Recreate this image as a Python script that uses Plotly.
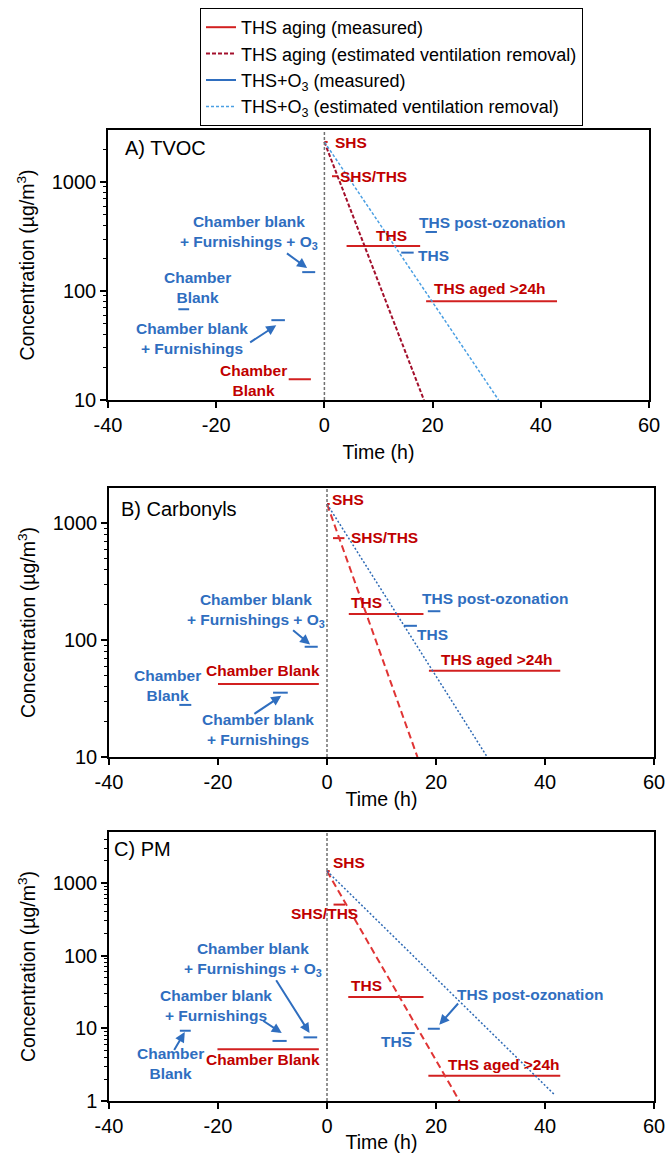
import numpy as np
import plotly.graph_objects as go

# ---------------- DATA ----------------
panels = ["A) TVOC", "B) Carbonyls", "C) PM"]

# Panel A (TVOC) measured segments: (start h, end h, value µg/m3)
A_red_names  = ["SHS", "SHS/THS", "THS", "THS aged >24h", "Chamber Blank"]
A_red_start  = [0.0, 1.4, 4.1, 18.8, -6.6]
A_red_end    = [0.6, 2.5, 17.7, 43.0, -2.5]
A_red_value  = [2330, 1130, 259, 80.5, 15.5]
A_blue_names = ["Chamber Blank", "Chamber blank + Furnishings", "Chamber blank + Furnishings + O3", "THS", "THS post-ozonation"]
A_blue_start = [-27.0, -9.8, -4.1, 14.2, 18.7]
A_blue_end   = [-25.0, -7.3, -1.7, 16.5, 20.8]
A_blue_value = [68, 54, 149, 225, 348]
A_est_red_t  = [0.0, 18.4]
A_est_red_v  = [2330, 10]
A_est_blue_t = [0.0, 32.2]
A_est_blue_v = [2330, 10]

# Panel B (Carbonyls)
B_red_names  = ["SHS", "SHS/THS", "THS", "THS aged >24h", "Chamber Blank"]
B_red_start  = [0.0, 1.1, 4.0, 18.7, -20.0]
B_red_end    = [0.5, 3.2, 17.7, 42.8, -1.5]
B_red_value  = [1460, 745, 167, 54.7, 42.2]
B_blue_names = ["Chamber Blank", "Chamber blank + Furnishings", "Chamber blank + Furnishings + O3", "THS", "THS post-ozonation"]
B_blue_start = [-27.1, -9.9, -4.1, 14.1, 18.5]
B_blue_end   = [-24.9, -7.2, -1.7, 16.5, 20.8]
B_blue_value = [27.9, 35.5, 87.7, 132.5, 176.6]
B_est_red_t  = [0.0, 16.6]
B_est_red_v  = [1460, 10]
B_est_blue_t = [0.0, 29.4]
B_est_blue_v = [1460, 10]

# Panel C (PM)
C_red_names  = ["SHS", "SHS/THS", "THS", "THS aged >24h", "Chamber Blank"]
C_red_start  = [0.0, 1.2, 3.9, 18.6, -20.1]
C_red_end    = [0.5, 3.3, 17.7, 42.8, -1.5]
C_red_value  = [1450, 502, 26.9, 2.22, 5.13]
C_blue_names = ["Chamber Blank", "Chamber blank + Furnishings", "Chamber blank + Furnishings + O3", "THS", "THS post-ozonation"]
C_blue_start = [-27.0, -10.0, -4.3, 13.7, 18.5]
C_blue_end   = [-25.0, -7.4, -1.8, 16.1, 20.7]
C_blue_value = [9.25, 6.7, 7.5, 8.6, 9.85]
C_est_red_t  = [0.0, 24.3]
C_est_red_v  = [1450, 1.0]
C_est_blue_t = [0.0, 41.7]
C_est_blue_v = [1450, 1.23]

x_ticks = [-40, -20, 0, 20, 40, 60]
y_ticks_AB = [10, 100, 1000]
y_ticks_C = [1, 10, 100, 1000]
y_max = [3000, 2000, 5000]
y_min = [10, 10, 1]

# ---------------- STYLE ----------------
FONT = "Liberation Sans, Arial, sans-serif"
RED_MEAS = "#D22020"
BLUE_MEAS = "#2F6EBF"
RED_TXT = "#C00000"
BLUE_TXT = "#2F6EBF"
EST_RED = ["#A3102C", "#E03434", "#E03434"]
EST_BLUE = ["#4A9FE3", "#2E6AB5", "#2E6AB5"]
EST_RED_DASH = ["4px,2px", "7px,4px", "7px,4px"]
EST_BLUE_DASH = ["3px,2px", "2px,2px", "2px,2px"]

W, H = 667, 1153
xdom = [[108 / W, 649 / W], [109 / W, 654 / W], [109 / W, 654 / W]]
ydom = [[1 - 400 / H, 1 - 130 / H], [1 - 757 / H, 1 - 488 / H], [1 - 1101 / H, 1 - 832 / H]]

fig = go.Figure()


def seg_xy(starts, ends, vals):
    xs, ys = [], []
    for s, e, v in zip(starts, ends, vals):
        xs += [s, e, None]
        ys += [v, v, None]
    return xs, ys


data = [
    (A_red_start, A_red_end, A_red_value, A_blue_start, A_blue_end, A_blue_value,
     A_est_red_t, A_est_red_v, A_est_blue_t, A_est_blue_v),
    (B_red_start, B_red_end, B_red_value, B_blue_start, B_blue_end, B_blue_value,
     B_est_red_t, B_est_red_v, B_est_blue_t, B_est_blue_v),
    (C_red_start, C_red_end, C_red_value, C_blue_start, C_blue_end, C_blue_value,
     C_est_red_t, C_est_red_v, C_est_blue_t, C_est_blue_v),
]

for i, d in enumerate(data):
    xa = "x" if i == 0 else f"x{i+1}"
    ya = "y" if i == 0 else f"y{i+1}"
    rs, re_, rv, bs, be, bv, ert, erv, ebt, ebv = d
    show = i == 0
    x, y = seg_xy(rs, re_, rv)
    fig.add_trace(go.Scatter(x=x, y=y, mode="lines", xaxis=xa, yaxis=ya,
                             line=dict(color=RED_MEAS, width=2),
                             name="THS aging (measured)", legendrank=1,
                             showlegend=show, hoverinfo="skip"))
    fig.add_trace(go.Scatter(x=ert, y=erv, mode="lines", xaxis=xa, yaxis=ya,
                             line=dict(color=EST_RED[i], width=2, dash=EST_RED_DASH[i]),
                             name="THS aging (estimated ventilation removal)", legendrank=2,
                             showlegend=show, hoverinfo="skip"))
    x, y = seg_xy(bs, be, bv)
    fig.add_trace(go.Scatter(x=x, y=y, mode="lines", xaxis=xa, yaxis=ya,
                             line=dict(color=BLUE_MEAS, width=2),
                             name="THS+O<sub>3</sub> (measured)", legendrank=3,
                             showlegend=show, hoverinfo="skip"))
    fig.add_trace(go.Scatter(x=ebt, y=ebv, mode="lines", xaxis=xa, yaxis=ya,
                             line=dict(color=EST_BLUE[i], width=1.5, dash=EST_BLUE_DASH[i]),
                             name="THS+O<sub>3</sub> (estimated ventilation removal)", legendrank=4,
                             showlegend=show, hoverinfo="skip"))

layout = dict(
    width=W, height=H,
    margin=dict(l=0, r=0, t=0, b=0),
    paper_bgcolor="white", plot_bgcolor="white",
    font=dict(family=FONT, size=20, color="black"),
    showlegend=True,
    legend=dict(x=200 / W, y=1 - 8 / H, xanchor="left", yanchor="top",
                bordercolor="black", borderwidth=1, bgcolor="white",
                font=dict(size=18, family=FONT), traceorder="normal"),
)

for i in range(3):
    xk = "xaxis" if i == 0 else f"xaxis{i+1}"
    yk = "yaxis" if i == 0 else f"yaxis{i+1}"
    xa = "x" if i == 0 else f"x{i+1}"
    ya = "y" if i == 0 else f"y{i+1}"
    standoff = [11, 1, 5][i]
    layout[xk] = dict(domain=xdom[i], anchor=ya, range=[-40, 60],
                      tickvals=x_ticks, ticktext=[str(v) for v in x_ticks],
                      ticks="outside", ticklen=6, tickwidth=1.5, tickcolor="black",
                      showline=True, linecolor="black", linewidth=1.5, mirror=True,
                      showgrid=False, zeroline=False,
                      tickfont=dict(size=20),
                      title=dict(text="Time (h)", font=dict(size=19.5), standoff=standoff),
                      automargin=False)
    yt = y_ticks_C if i == 2 else y_ticks_AB
    lo, hi = y_min[i], y_max[i]
    minor_vals = [m * 10 ** e for e in range(int(np.log10(lo)), int(np.ceil(np.log10(hi))) + 1)
                  for m in range(2, 10) if lo < m * 10 ** e < hi]
    layout[yk] = dict(domain=ydom[i], anchor=xa, type="log",
                      range=[np.log10(lo), np.log10(hi)],
                      tickvals=yt, ticktext=[str(v) for v in yt],
                      ticks="outside", ticklen=6, tickwidth=1.5, tickcolor="black",
                      minor=dict(tickvals=minor_vals, ticks="outside", ticklen=3,
                                 tickwidth=1, tickcolor="black", showgrid=False),
                      showline=True, linecolor="black", linewidth=1.5, mirror=True,
                      showgrid=False, zeroline=False,
                      tickfont=dict(size=20),
                      title=dict(text="Concentration (µg/m<sup>3</sup>)", font=dict(size=19.5), standoff=12),
                      automargin=False)

fig.update_layout(**layout)

# vertical dashed line at t = 0
shapes = []
for i in range(3):
    xa = "x" if i == 0 else f"x{i+1}"
    ya = "y" if i == 0 else f"y{i+1}"
    shapes.append(dict(type="line", xref=xa, yref=f"{ya} domain", x0=0, x1=0, y0=0, y1=1,
                       line=dict(color="#707070", width=1.5, dash="3px,2px")))
fig.update_layout(shapes=shapes)

ann = []


def label(i, text, x, ly, color, anchor="center", size=15.5, bold=True):
    xa = "x" if i == 0 else f"x{i+1}"
    ya = "y" if i == 0 else f"y{i+1}"
    ann.append(dict(xref=xa, yref=ya, x=x, y=ly, text=text, showarrow=False,
                    xanchor=anchor, yanchor="middle", align="center",
                    font=dict(size=size, color=color, family=FONT,
                              weight="bold" if bold else "normal")))


def arrow(i, x0, y0, x1, y1):
    xa = "x" if i == 0 else f"x{i+1}"
    ya = "y" if i == 0 else f"y{i+1}"
    ann.append(dict(xref=xa, yref=ya, axref=xa, ayref=ya, x=x1, y=y1, ax=x0, ay=y0,
                    text="", showarrow=True, arrowhead=2, arrowsize=1, arrowwidth=2,
                    arrowcolor=BLUE_MEAS, standoff=0, startstandoff=0))


# panel titles
for i, t in enumerate(panels):
    lx = [-37.2, -38.1, -39.5][i]
    ly = [3.309, 3.123, 3.459][i]
    label(i, t, lx, ly, "black", anchor="left", size=20, bold=False)

CB3 = "Chamber blank<br>+ Furnishings + O<sub>3</sub>"
CBF = "Chamber blank<br>+ Furnishings"
CB = "Chamber<br>Blank"

# Panel A labels
label(0, CB3, -14.0, 2.538, BLUE_TXT)
arrow(0, -7.2, 2.355, -3.2, 2.211)
label(0, CB, -23.5, 2.034, BLUE_TXT)
label(0, CBF, -24.5, 1.561, BLUE_TXT)
arrow(0, -14.0, 1.520, -8.9, 1.685)
label(0, CB, -13.1, 1.181, RED_TXT)
label(0, "SHS", 1.5, 3.367, RED_TXT, anchor="left")
label(0, "SHS/THS", 2.6, 3.052, RED_TXT, anchor="left")
label(0, "THS", 12.4, 2.505, RED_TXT)
label(0, "THS", 17.0, 2.328, BLUE_TXT, anchor="left")
label(0, "THS post-ozonation", 17.2, 2.633, BLUE_TXT, anchor="left")
label(0, "THS aged >24h", 19.8, 2.022, RED_TXT, anchor="left")

# Panel B labels
label(1, CB3, -13.0, 2.256, BLUE_TXT)
arrow(1, -6.5, 2.094, -3.1, 1.963)
label(1, CB, -29.2, 1.612, BLUE_TXT)
label(1, "Chamber Blank", -11.7, 1.744, RED_TXT)
label(1, CBF, -12.6, 1.233, BLUE_TXT)
arrow(1, -13.6, 1.361, -8.4, 1.523)
label(1, "SHS", 0.5, 3.202, RED_TXT, anchor="left")
label(1, "SHS/THS", 4.0, 2.878, RED_TXT, anchor="left")
label(1, "THS", 7.2, 2.318, RED_TXT)
label(1, "THS", 19.4, 2.051, BLUE_TXT)
label(1, "THS post-ozonation", 30.8, 2.352, BLUE_TXT)
label(1, "THS aged >24h", 31.1, 1.835, RED_TXT)

# Panel C labels
label(2, CB3, -13.5, 1.939, BLUE_TXT)
arrow(2, -9.5, 1.682, -3.2, 0.934)
label(2, CBF, -20.4, 1.310, BLUE_TXT)
arrow(2, -12.0, 1.117, -8.3, 0.934)
label(2, CB, -28.8, 0.511, BLUE_TXT)
arrow(2, -28.2, 0.680, -26.1, 0.948)
label(2, "Chamber Blank", -11.7, 0.566, RED_TXT)
label(2, "SHS", 0.7, 3.275, RED_TXT, anchor="left")
label(2, "SHS/THS", -0.4, 2.573, RED_TXT)
label(2, "THS", 7.3, 1.585, RED_TXT)
label(2, "THS", 12.7, 0.818, BLUE_TXT)
label(2, "THS post-ozonation", 37.2, 1.461, BLUE_TXT)
arrow(2, 24.3, 1.361, 20.6, 1.048)
label(2, "THS aged >24h", 32.4, 0.507, RED_TXT)

fig.update_layout(annotations=ann)

fig.write_html("out.html")
